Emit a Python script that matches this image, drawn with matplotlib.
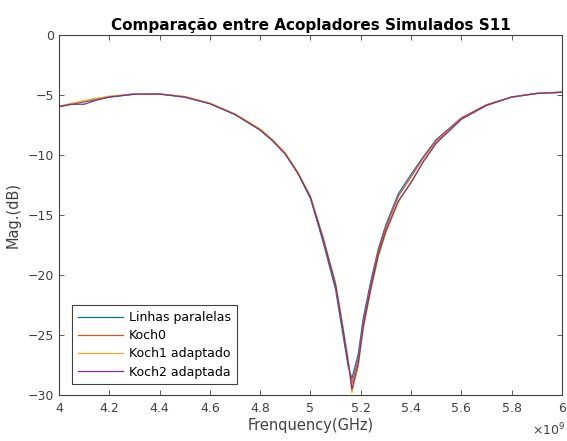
import matplotlib
matplotlib.use('Agg')
import matplotlib.pyplot as plt
from matplotlib.ticker import FuncFormatter

plt.rcParams['font.family'] = ['DejaVu Sans']

# frequency in GHz (axis shows x10^9)
freq = [4.0, 4.05, 4.1, 4.15, 4.2, 4.3, 4.4, 4.5, 4.6, 4.7, 4.8, 4.85, 4.9, 4.95,
        5.0, 5.05, 5.1, 5.125, 5.15, 5.165, 5.19, 5.21, 5.24, 5.27, 5.3, 5.35,
        5.4, 5.45, 5.5, 5.6, 5.7, 5.8, 5.9, 6.0]

linhas = [-5.95, -5.75, -5.55, -5.35, -5.15, -4.92, -4.9, -5.15, -5.7, -6.6, -7.9,
          -8.8, -9.9, -11.5, -13.6, -17.2, -21.2, -24.4, -27.6, -28.6, -26.6, -23.6,
          -20.5, -17.8, -15.8, -13.2, -11.6, -10.1, -8.7, -6.9, -5.8, -5.15, -4.85, -4.75]
koch0 = [-5.95, -5.72, -5.5, -5.3, -5.12, -4.9, -4.9, -5.12, -5.68, -6.58, -7.85,
         -8.75, -9.85, -11.45, -13.5, -17.0, -20.9, -24.0, -27.3, -29.0, -27.0, -24.0,
         -20.8, -18.0, -16.0, -13.4, -11.8, -10.2, -8.8, -6.9, -5.8, -5.15, -4.85, -4.75]
koch1 = [-5.9, -5.68, -5.45, -5.25, -5.08, -4.88, -4.88, -5.1, -5.65, -6.55, -7.8,
         -8.7, -9.8, -11.4, -13.4, -16.8, -20.6, -23.7, -27.0, -29.8, -27.6, -24.5,
         -21.3, -18.5, -16.5, -13.9, -12.2, -10.5, -9.0, -7.0, -5.85, -5.15, -4.85, -4.72]
koch2 = [-5.95, -5.75, -5.75, -5.4, -5.15, -4.9, -4.9, -5.15, -5.7, -6.6, -7.9,
         -8.8, -9.9, -11.5, -13.5, -16.9, -20.8, -23.9, -27.2, -29.5, -27.4, -24.3,
         -21.1, -18.3, -16.3, -13.8, -12.3, -10.5, -9.0, -7.0, -5.85, -5.15, -4.85, -4.75]

labels = ['Linhas paralelas', 'Koch0', 'Koch1 adaptado', 'Koch2 adaptada']
colors = ['#0072BD', '#D95319', '#EDB120', '#7E2F8E']

xticks = [4, 4.2, 4.4, 4.6, 4.8, 5, 5.2, 5.4, 5.6, 5.8, 6]
yticks = [0, -5, -10, -15, -20, -25, -30]

axcol = '#404040'

fig = plt.figure(figsize=(5.67, 4.41), dpi=100)
ax = fig.add_axes([0.104, 0.104, 0.887, 0.816])

for ys, lab, c in zip([linhas, koch0, koch1, koch2], labels, colors):
    ax.plot(freq, ys, color=c, linewidth=0.9, label=lab)

ax.set_xlim(4, 6)
ax.set_ylim(-30, 0)
ax.set_xticks(xticks)
ax.set_yticks(yticks)
ax.xaxis.set_major_formatter(FuncFormatter(lambda v, p: '%g' % v))
ax.tick_params(direction='in', length=3.5, width=0.6, colors=axcol, labelsize=9,
               top=True, right=True)
ax.tick_params(axis='x', pad=5)
for s in ax.spines.values():
    s.set_color(axcol)
    s.set_linewidth(0.8)

ax.set_title('Comparação entre Acopladores Simulados S11', fontsize=11,
             fontweight='bold', pad=4)
ax.set_xlabel('Frenquency(GHz)', fontsize=10.5, color=axcol, labelpad=2)
ax.set_ylabel('Mag.(dB)', fontsize=10.5, color=axcol, labelpad=5)
fig.text(0.997, 0.005, r'$\times10^9$', fontsize=9, color=axcol,
         ha='right', va='bottom')

leg = ax.legend(loc='lower left', bbox_to_anchor=(0.026, 0.03), borderaxespad=0,
                fontsize=9, handlelength=3.6, handletextpad=0.5, labelspacing=0.42,
                borderpad=0.45, fancybox=False, framealpha=1, edgecolor=axcol)
leg.get_frame().set_linewidth(0.8)

fig.savefig('out.png', dpi=100)
